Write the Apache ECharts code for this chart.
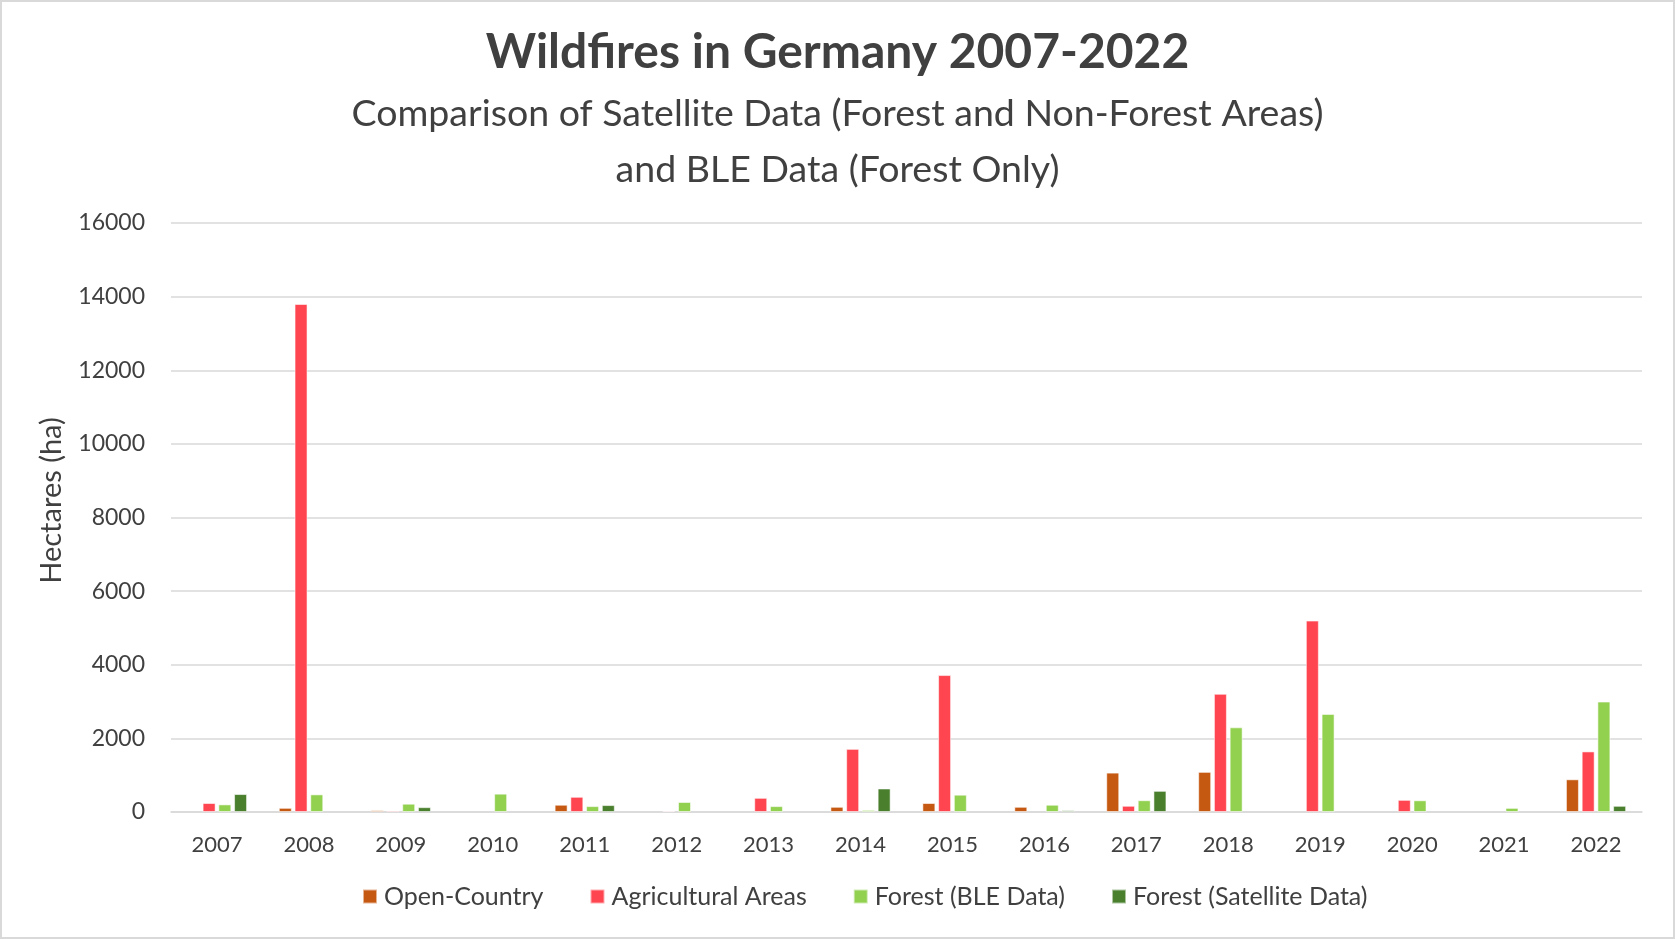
<!DOCTYPE html>
<html style="height: 100%; width: 100%">
  <head>
    <meta charset="utf-8" />
    <style>
      html, body { margin: 0; padding: 0; background: #ffffff; }
      #chart-panel {
        width: 1675px;
        height: 939px;
        box-sizing: border-box;
        border: 2px solid #d9d9d9;
      }
    </style>
  </head>
  <body>
    <div id="chart-panel"></div>
    <script
      type="text/javascript"
      src="https://cdn.jsdelivr.net/npm/echarts@6/dist/echarts.min.js"
    ></script>
    <script type="text/javascript">
      // years on the x axis
      var years = ["2007", "2008", "2009", "2010", "2011", "2012", "2013", "2014",
        "2015", "2016", "2017", "2018", "2019", "2020", "2021", "2022"];

      // burnt area in hectares
      var openCountry = [0, 113, 47, 0, 197, 0, 0, 141, 244, 141, 1070, 1090, 0, 0, 0, 888];
      var agricultural = [244, 13800, 38, 0, 413, 32, 385, 1715, 3720, 0, 169, 3210, 5200, 330, 0, 1646];
      var forestBle = [207, 479, 225, 498, 160, 272, 160, 56, 470, 197, 320, 2300, 2665, 318, 112, 3000];
      var forestSat = [488, 0, 131, 0, 188, 0, 0, 639, 0, 47, 575, 0, 0, 0, 0, 168];

      var seriesNames = ["Open-Country", "Agricultural Areas", "Forest (BLE Data)", "Forest (Satellite Data)"];
      var seriesColors = ["#c65911", "#ff4650", "#92d050", "#4a7f2e"];

      var font = "Lato, 'Open Sans', sans-serif";
      var textColor = "#404040";

      var dom = document.getElementById("chart-panel");
      var myChart = echarts.init(dom);

      function barSeries(i, values) {
        return {
          name: seriesNames[i],
          type: "bar",
          // zero values are left out so no flat bar sits on the axis line
          data: values.map(function (v) { return v === 0 ? "-" : v; }),
          barWidth: 13,
          barGap: "21%",
          itemStyle: {
            color: seriesColors[i],
            borderColor: "rgba(255,255,255,0.55)",
            borderWidth: 1,
          },
        };
      }

      function subTitle(text, top) {
        return {
          text: text,
          left: "center",
          top: top,
          textStyle: {
            fontFamily: font,
            fontSize: 37.5,
            fontWeight: "normal",
            lineHeight: 56,
            color: textColor,
          },
        };
      }

      var option = {
        animation: false,
        textStyle: { fontFamily: font },
        title: [
          {
            text: "Wildfires in Germany 2007-2022",
            left: "center",
            top: 22,
            textStyle: {
              fontFamily: font,
              fontSize: 48,
              fontWeight: "bold",
              color: textColor,
            },
          },
          subTitle("Comparison of Satellite Data (Forest and Non-Forest Areas)", 79),
          subTitle("and BLE Data (Forest Only)", 135),
        ],
        legend: {
          data: seriesNames,
          left: 355,
          top: 877,
          icon: "rect",
          itemWidth: 14,
          itemHeight: 14,
          itemGap: 46,
          textStyle: {
            fontFamily: font,
            fontSize: 25,
            color: textColor,
            padding: [0, 0, 0, 2],
          },
        },
        grid: {
          left: 169,
          right: 31,
          top: 221,
          bottom: 125,
        },
        xAxis: {
          type: "category",
          data: years,
          axisLine: { lineStyle: { color: "#d9d9d9", width: 1.5 } },
          axisTick: { show: false },
          axisLabel: {
            fontFamily: font,
            fontSize: 22,
            color: textColor,
            margin: 22,
          },
        },
        yAxis: {
          type: "value",
          min: 0,
          max: 16000,
          interval: 2000,
          name: "Hectares (ha)",
          nameLocation: "middle",
          nameGap: 105,
          nameTextStyle: {
            fontFamily: font,
            fontSize: 29,
            color: textColor,
            padding: [0, 0, 0, 34],
          },
          axisLine: { show: false },
          axisTick: { show: false },
          axisLabel: {
            fontFamily: font,
            fontSize: 23,
            color: textColor,
            margin: 26,
            formatter: function (v) {
              return String(v);
            },
          },
          splitLine: { lineStyle: { color: "#d9d9d9", width: 1.5 } },
        },
        series: [
          barSeries(0, openCountry),
          barSeries(1, agricultural),
          barSeries(2, forestBle),
          barSeries(3, forestSat),
        ],
      };

      myChart.setOption(option);
    </script>
  </body>
</html>
